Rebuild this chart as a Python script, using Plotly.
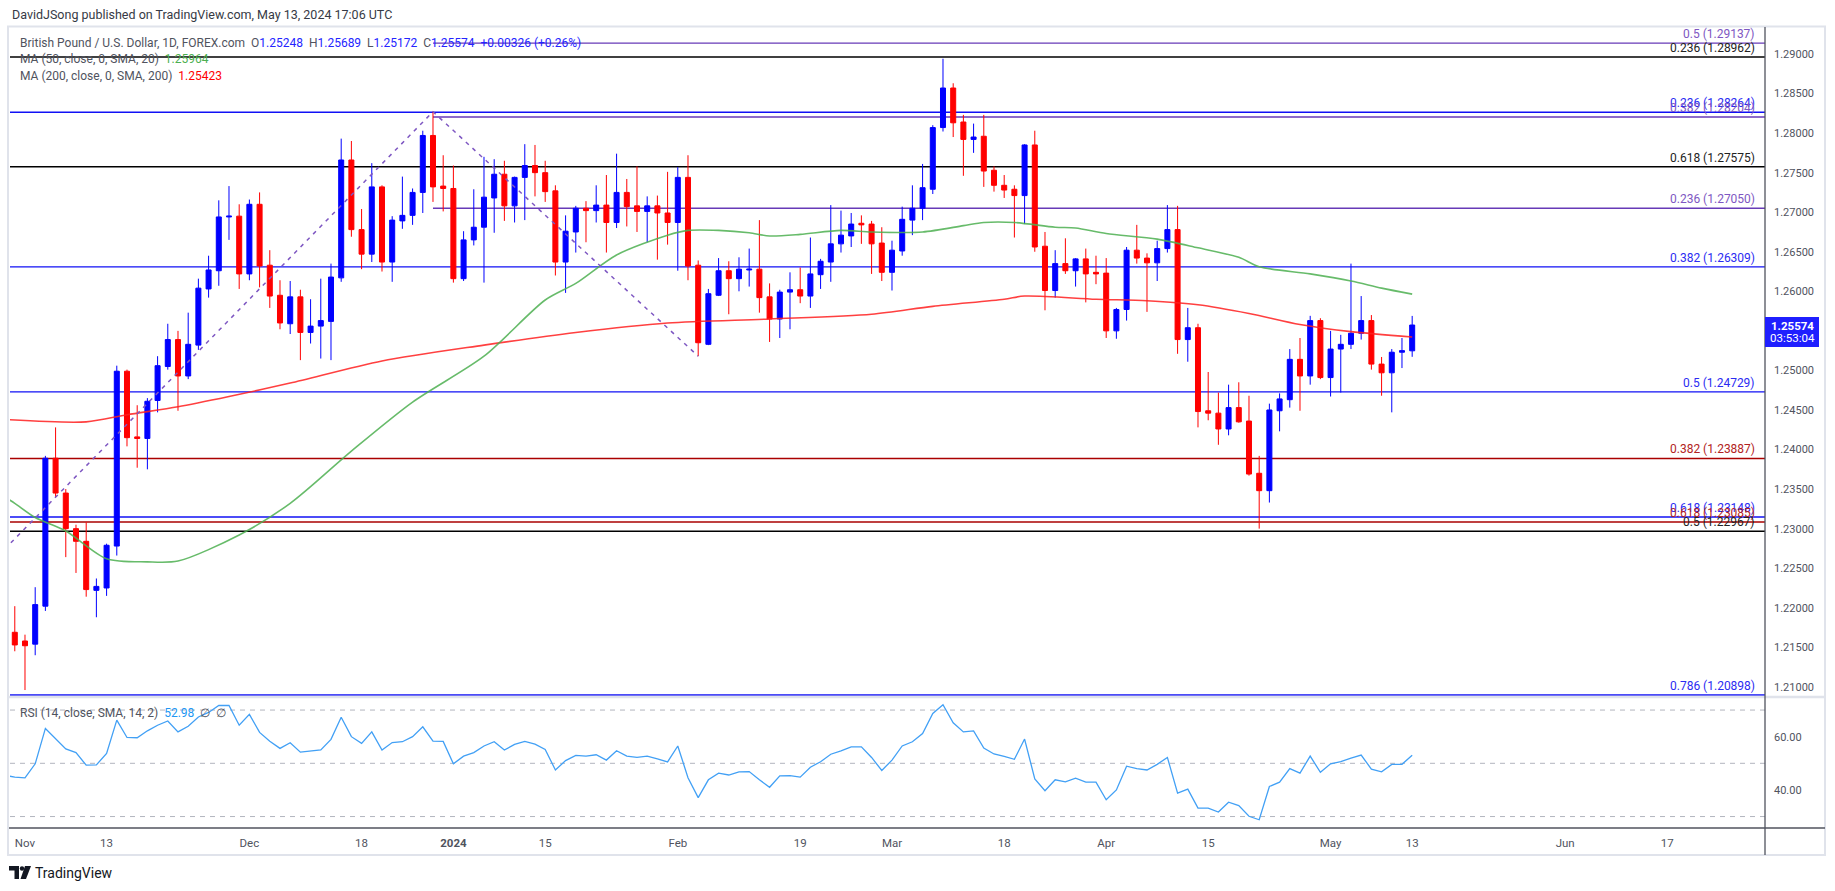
import pandas as pd
import plotly.graph_objects as go

# ---------------- data ----------------
HOLIDAYS = ["2023-12-25", "2024-01-01"]


def trading_days(start, end):
    return [d.strftime("%Y-%m-%d") for d in pd.bdate_range(start, end)
            if d.strftime("%Y-%m-%d") not in HOLIDAYS]


dates = trading_days("2023-10-30", "2024-05-13")          # daily bars
axis_days = trading_days("2023-10-30", "2024-07-31")      # incl. future space
FIRST_DAY = "2023-11-01"

opens = [
    1.2118, 1.2169, 1.2158, 1.2154, 1.2202, 1.2389, 1.2345, 1.2300, 1.2284, 1.2222,
    1.2225, 1.2278, 1.2499, 1.2416, 1.2414, 1.2462, 1.2505, 1.2539, 1.2493, 1.2532,
    1.2603, 1.2626, 1.2694, 1.2695, 1.2622, 1.2710, 1.2633, 1.2595, 1.2559, 1.2593,
    1.2548, 1.2556, 1.2562, 1.2617, 1.2766, 1.2678, 1.2647, 1.2732, 1.2637, 1.2689,
    1.2696, 1.2725, 1.2797, 1.2733, 1.2730, 1.2616, 1.2665, 1.2681, 1.2718, 1.2748,
    1.2708, 1.2744, 1.2759, 1.2750, 1.2727, 1.2637, 1.2675, 1.2705, 1.2702, 1.2709,
    1.2687, 1.2725, 1.2708, 1.2701, 1.2708, 1.2699, 1.2687, 1.2744, 1.2633, 1.2533,
    1.2595, 1.2626, 1.2616, 1.2627, 1.2628, 1.2593, 1.2565, 1.2599, 1.2602, 1.2594,
    1.2621, 1.2637, 1.2660, 1.2670, 1.2686, 1.2685, 1.2661, 1.2624, 1.2651, 1.2690,
    1.2705, 1.2729, 1.2807, 1.2857, 1.2814, 1.2792, 1.2796, 1.2753, 1.2734, 1.2729,
    1.2721, 1.2785, 1.2657, 1.2601, 1.2635, 1.2626, 1.2641, 1.2624, 1.2623, 1.2550,
    1.2577, 1.2652, 1.2642, 1.2636, 1.2654, 1.2678, 1.2539, 1.2554, 1.2449, 1.2446,
    1.2426, 1.2453, 1.2436, 1.2370, 1.2348, 1.2449, 1.2463, 1.2514, 1.2493, 1.2563,
    1.2491, 1.2527, 1.2533, 1.2547, 1.2563, 1.2508, 1.2497, 1.2523, 1.25248,
]
highs = [
    1.2168, 1.2202, 1.2166, 1.2226, 1.2392, 1.2428, 1.2350, 1.2305, 1.2308, 1.2237,
    1.2281, 1.2506, 1.2501, 1.2456, 1.2465, 1.2518, 1.2559, 1.2550, 1.2573, 1.2616,
    1.2645, 1.2715, 1.2733, 1.2710, 1.2716, 1.2725, 1.2652, 1.2614, 1.2613, 1.2602,
    1.2590, 1.2616, 1.2635, 1.2793, 1.2790, 1.2704, 1.2762, 1.2734, 1.2695, 1.2745,
    1.2730, 1.2803, 1.2827, 1.2772, 1.2759, 1.2676, 1.2729, 1.2770, 1.2767, 1.2765,
    1.2745, 1.2786, 1.2785, 1.2765, 1.2734, 1.2696, 1.2708, 1.2714, 1.2734, 1.2747,
    1.2774, 1.2742, 1.2758, 1.2720, 1.2721, 1.2751, 1.2757, 1.2772, 1.2639, 1.2603,
    1.2642, 1.2638, 1.2643, 1.2654, 1.2690, 1.2610, 1.2602, 1.2624, 1.2630, 1.2668,
    1.2641, 1.2709, 1.2702, 1.2699, 1.2696, 1.2689, 1.2681, 1.2664, 1.2707, 1.2734,
    1.2761, 1.2810, 1.2894, 1.2863, 1.2823, 1.2812, 1.2823, 1.2758, 1.2747, 1.2734,
    1.2786, 1.2803, 1.2675, 1.2652, 1.2667, 1.2642, 1.2654, 1.2645, 1.2642, 1.2579,
    1.2656, 1.2684, 1.2648, 1.2664, 1.2709, 1.2708, 1.2579, 1.2559, 1.2498, 1.2472,
    1.2482, 1.2485, 1.2468, 1.2392, 1.2458, 1.2471, 1.2527, 1.2541, 1.2569, 1.2566,
    1.2550, 1.2545, 1.2635, 1.2594, 1.2570, 1.2517, 1.2527, 1.2541, 1.25689,
]
lows = [
    1.2112, 1.2145, 1.2096, 1.2140, 1.2196, 1.2340, 1.2264, 1.2244, 1.2214, 1.2188,
    1.2215, 1.2266, 1.2404, 1.2377, 1.2375, 1.2447, 1.2501, 1.2449, 1.2489, 1.2526,
    1.2592, 1.2607, 1.2665, 1.2603, 1.2614, 1.2605, 1.2579, 1.2552, 1.2546, 1.2513,
    1.2534, 1.2515, 1.2513, 1.2612, 1.2669, 1.2628, 1.2637, 1.2625, 1.2612, 1.2679,
    1.2684, 1.2699, 1.2713, 1.2701, 1.2611, 1.2613, 1.2658, 1.2611, 1.2674, 1.2689,
    1.2687, 1.2690, 1.2720, 1.2713, 1.2620, 1.2598, 1.2649, 1.2662, 1.2687, 1.2649,
    1.2680, 1.2682, 1.2675, 1.2662, 1.2640, 1.2659, 1.2626, 1.2614, 1.2518, 1.2532,
    1.2594, 1.2571, 1.2600, 1.2606, 1.2573, 1.2536, 1.2541, 1.2552, 1.2585, 1.2579,
    1.2603, 1.2612, 1.2649, 1.2656, 1.2660, 1.2622, 1.2613, 1.2601, 1.2645, 1.2671,
    1.2690, 1.2723, 1.2802, 1.2795, 1.2746, 1.2775, 1.2732, 1.2726, 1.2718, 1.2668,
    1.2685, 1.2650, 1.2576, 1.2592, 1.2622, 1.2606, 1.2586, 1.2609, 1.2541, 1.2540,
    1.2563, 1.2635, 1.2574, 1.2613, 1.2649, 1.2521, 1.2511, 1.2428, 1.2437, 1.2406,
    1.2418, 1.2434, 1.2367, 1.2300, 1.2333, 1.2423, 1.2453, 1.2449, 1.2482, 1.2489,
    1.2467, 1.2472, 1.2527, 1.2539, 1.2501, 1.2468, 1.2447, 1.2503, 1.25172,
]
closes = [
    1.2160, 1.2153, 1.2152, 1.2204, 1.2389, 1.2345, 1.2300, 1.2284, 1.2223, 1.2227,
    1.2279, 1.2499, 1.2415, 1.2414, 1.2461, 1.2506, 1.2539, 1.2493, 1.2533, 1.2604,
    1.2627, 1.2694, 1.2695, 1.2622, 1.2710, 1.2632, 1.2594, 1.2560, 1.2593, 1.2548,
    1.2556, 1.2563, 1.2618, 1.2766, 1.2678, 1.2647, 1.2732, 1.2637, 1.2690, 1.2696,
    1.2725, 1.2797, 1.2732, 1.2730, 1.2616, 1.2665, 1.2681, 1.2719, 1.2748, 1.2708,
    1.2744, 1.2759, 1.2750, 1.2726, 1.2637, 1.2676, 1.2705, 1.2702, 1.2709, 1.2687,
    1.2725, 1.2707, 1.2701, 1.2708, 1.2699, 1.2687, 1.2744, 1.2632, 1.2535, 1.2597,
    1.2626, 1.2616, 1.2628, 1.2628, 1.2592, 1.2565, 1.2599, 1.2602, 1.2594, 1.2622,
    1.2638, 1.2660, 1.2671, 1.2685, 1.2684, 1.2660, 1.2624, 1.2652, 1.2691, 1.2705,
    1.2731, 1.2807, 1.2857, 1.2813, 1.2792, 1.2795, 1.2752, 1.2734, 1.2728, 1.2721,
    1.2785, 1.2656, 1.2601, 1.2635, 1.2626, 1.2641, 1.2622, 1.2622, 1.2550, 1.2577,
    1.2652, 1.2642, 1.2636, 1.2654, 1.2678, 1.2539, 1.2554, 1.2448, 1.2446, 1.2426,
    1.2453, 1.2435, 1.2369, 1.2348, 1.2450, 1.2464, 1.2514, 1.2493, 1.2563, 1.2491,
    1.2527, 1.2533, 1.2547, 1.2563, 1.2508, 1.2497, 1.2523, 1.2525, 1.25574,
]
rsi = [
    45.5, 44.8, 44.5, 49.8, 63.1, 59.2, 55.4, 54.0, 49.3, 49.4,
    53.7, 66.2, 59.7, 59.6, 62.2, 64.3, 65.9, 61.8, 63.9, 67.4,
    69.1, 71.7, 71.7, 64.3, 68.4, 61.6, 58.3, 55.6, 57.7, 54.2,
    54.6, 55.0, 59.0, 67.3, 60.0, 57.5, 61.8, 55.0, 57.8, 58.1,
    60.0, 63.7, 58.3, 58.2, 49.8, 52.7, 54.0, 56.5, 58.1, 55.0,
    57.1, 58.2, 57.2, 55.2, 47.5, 51.0, 53.0, 52.7, 53.2, 51.2,
    54.7, 52.7, 52.2, 52.7, 51.7, 50.5, 56.5, 44.6, 37.1, 43.8,
    46.3, 45.6, 46.8, 46.9, 43.8, 41.0, 45.3, 45.4, 44.8, 48.5,
    50.6, 53.4, 54.7, 56.2, 56.2, 52.2, 47.3, 51.2, 56.5, 58.1,
    61.2, 68.7, 72.0, 65.2, 61.8, 62.2, 55.7, 53.5, 52.6, 51.5,
    59.1, 44.1, 39.7, 43.8, 43.0, 44.4, 42.9, 42.9, 36.3, 40.0,
    48.9, 48.0, 47.5, 49.6, 52.2, 38.8, 40.3, 33.2, 33.2, 31.7,
    35.4, 34.1, 30.1, 28.8, 41.3, 42.9, 48.0, 46.3, 52.7, 46.6,
    49.8, 50.6, 51.9, 53.1, 47.8, 46.8, 49.6, 49.6, 52.98,
]

ma50_dates = ["2023-10-30", "2023-10-31", "2023-11-02", "2023-11-07", "2023-11-13", "2023-11-17",
              "2023-11-22", "2023-11-30", "2023-12-07", "2023-12-15", "2023-12-26", "2024-01-05",
              "2024-01-15", "2024-01-18", "2024-01-24", "2024-01-31", "2024-02-02", "2024-02-07",
              "2024-02-12", "2024-02-14", "2024-02-19", "2024-02-23", "2024-02-28", "2024-03-06",
              "2024-03-12", "2024-03-14", "2024-03-19", "2024-03-25", "2024-03-27", "2024-04-01",
              "2024-04-08", "2024-04-12", "2024-04-18", "2024-04-22", "2024-04-29", "2024-05-03",
              "2024-05-08", "2024-05-13"]
ma50_vals = [1.2340, 1.2332, 1.2314, 1.2297, 1.2262, 1.2258,
             1.2259, 1.2292, 1.2332, 1.2398, 1.2460, 1.2518,
             1.2589, 1.2610, 1.2646, 1.2671, 1.2677, 1.2677,
             1.2674, 1.2670, 1.2672, 1.2677, 1.2675, 1.2675,
             1.2683, 1.2687, 1.2687, 1.2681, 1.2680, 1.2673,
             1.2666, 1.2655, 1.2643, 1.2631, 1.2622, 1.2613,
             1.2604, 1.25964]

ma200_dates = ["2023-10-30", "2023-11-09", "2023-11-15", "2023-11-22", "2023-11-29", "2023-12-07",
               "2023-12-20", "2024-01-05", "2024-01-18", "2024-01-31", "2024-02-14", "2024-02-28",
               "2024-03-07", "2024-03-18", "2024-03-20", "2024-03-29", "2024-04-05", "2024-04-12",
               "2024-04-19", "2024-04-26", "2024-05-03", "2024-05-13"]
ma200_vals = [1.2438, 1.2435, 1.2444, 1.2454, 1.2467, 1.2484,
              1.2512, 1.2532, 1.2548, 1.2560, 1.2565, 1.2571,
              1.2581, 1.2590, 1.2594, 1.2590, 1.2588, 1.2583,
              1.2572, 1.2558, 1.2549, 1.25423]

# Fibonacci drawing: swing points of the dashed trend line
trend_dates = ["2023-10-30", "2023-12-28", "2024-02-05"]
trend_prices = [1.2274, 1.2827, 1.2518]

fib_ratios = ["0.5", "0.236", "0.236", "0.382", "0.618", "0.236", "0.382",
              "0.5", "0.382", "0.618", "0.618", "0.5", "0.786"]
fib_prices = [1.29137, 1.28962, 1.28264, 1.28204, 1.27575, 1.27050, 1.26309,
              1.24729, 1.23887, 1.23148, 1.23085, 1.22967, 1.20898]
fib_sets = ["purple", "black", "blue", "purple", "black", "purple", "blue",
            "blue", "red", "blue", "red", "black", "blue"]
fib_purple_start = "2023-12-28"

tick_dates = ["2023-11-01", "2023-11-13", "2023-12-01", "2023-12-18", "2024-01-02",
              "2024-01-15", "2024-02-01", "2024-02-19", "2024-03-01", "2024-03-18",
              "2024-04-01", "2024-04-15", "2024-05-01", "2024-05-13", "2024-06-03",
              "2024-06-17"]
tick_labels = ["Nov", "13", "Dec", "18", "<b>2024</b>", "15", "Feb", "19", "Mar", "18",
               "Apr", "15", "May", "13", "Jun", "17"]

price_ticks = [1.21, 1.215, 1.22, 1.225, 1.23, 1.235, 1.24, 1.245, 1.25,
               1.26, 1.265, 1.27, 1.275, 1.28, 1.285, 1.29]

# ---------------- helpers ----------------
base = axis_days.index(FIRST_DAY)
pos = {d: i - base for i, d in enumerate(axis_days)}
xs = [pos[d] for d in dates]

W, H = 1835, 891
L, R, T, B = 10, 1765, 27, 828          # plot area in pixels
X_MIN, X_MAX = -1.47, 170.59
Y_MIN, Y_MAX = 1.20872, 1.29341
SPLIT = 697                              # price / RSI separator


def PX(x):
    return (x - L) / (R - L)


def PY(y):
    return (B - y) / (B - T)


FONT = "Roboto, 'Liberation Sans', Arial, sans-serif"
BLUE = "#0000ff"
RED = "#ff0000"
line_col = {"blue": "#1010f5", "purple": "#673ab7", "black": "#000000", "red": "#aa0000"}
text_col = {"blue": "#2b2bf2", "purple": "#7e57c2", "black": "#222222", "red": "#b22222"}

fig = go.Figure()

fig.add_trace(go.Candlestick(
    x=xs, open=opens, high=highs, low=lows, close=closes, text=dates,
    increasing=dict(line=dict(color=BLUE, width=1), fillcolor=BLUE),
    decreasing=dict(line=dict(color=RED, width=1), fillcolor=RED),
    whiskerwidth=0, hoverinfo="text+y", xaxis="x", yaxis="y", name="GBPUSD"))

fig.add_trace(go.Scatter(
    x=[pos[d] for d in ma200_dates], y=ma200_vals, mode="lines",
    line=dict(color="rgba(255,30,30,0.85)", width=1.6, shape="spline", smoothing=0.8),
    hoverinfo="skip", xaxis="x", yaxis="y"))
fig.add_trace(go.Scatter(
    x=[pos[d] for d in ma50_dates], y=ma50_vals, mode="lines",
    line=dict(color="rgba(76,175,80,0.85)", width=1.6, shape="spline", smoothing=0.8),
    hoverinfo="skip", xaxis="x", yaxis="y"))
fig.add_trace(go.Scatter(
    x=[pos[d] for d in trend_dates], y=trend_prices, mode="lines",
    line=dict(color="#7e57c2", width=1.5, dash="4px,5px"),
    hoverinfo="skip", xaxis="x", yaxis="y"))

fig.add_trace(go.Scatter(
    x=xs, y=rsi, mode="lines", line=dict(color="#42a0f5", width=1.3),
    hoverinfo="skip", xaxis="x2", yaxis="y2"))

shapes = []
annotations = []

# Fibonacci levels
for ratio, price, st in zip(fib_ratios, fib_prices, fib_sets):
    x0 = pos[fib_purple_start] if st == "purple" else X_MIN
    shapes.append(dict(type="line", xref="x", yref="y", x0=x0, x1=X_MAX, y0=price, y1=price,
                       line=dict(color=line_col[st], width=1.4), layer="below"))
    annotations.append(dict(xref="paper", yref="y", x=PX(1757), y=price, xanchor="right",
                            yanchor="bottom", yshift=0, showarrow=False,
                            text=f"{ratio} ({price:.5f})",
                            font=dict(family=FONT, size=12, color=text_col[st])))

# RSI bands
for lvl in (70, 50, 30):
    shapes.append(dict(type="line", xref="x2", yref="y2", x0=X_MIN, x1=X_MAX, y0=lvl, y1=lvl,
                       line=dict(color="#b2b5be", width=1, dash="5px,5px"), layer="below"))

# frame
frame = "#e0e3eb"
axis_c = "#50535e"
shapes += [
    dict(type="rect", xref="paper", yref="paper", x0=PX(8), x1=PX(1825), y0=PY(855), y1=PY(26.5),
         line=dict(color=frame, width=2)),
    dict(type="line", xref="paper", yref="paper", x0=PX(8), x1=PX(1825), y0=PY(SPLIT), y1=PY(SPLIT),
         line=dict(color=frame, width=2.5)),
    dict(type="line", xref="paper", yref="paper", x0=PX(9), x1=PX(1825), y0=PY(828), y1=PY(828),
         line=dict(color=axis_c, width=1.3)),
    dict(type="line", xref="paper", yref="paper", x0=PX(1765), x1=PX(1765), y0=PY(855), y1=PY(27),
         line=dict(color=axis_c, width=1.3)),
    # last price badge
    dict(type="rect", xref="paper", yref="paper", x0=PX(1765), x1=PX(1819), y0=PY(347), y1=PY(317),
         fillcolor="#1f1fff", line=dict(width=0)),
    # TradingView logo
    dict(type="path", xref="paper", yref="paper",
         path=f"M {PX(9)},{PY(866)} L {PX(19)},{PY(866)} L {PX(19)},{PY(879)} L {PX(14.5)},{PY(879)} "
              f"L {PX(14.5)},{PY(870.5)} L {PX(9)},{PY(870.5)} Z",
         fillcolor="#131722", line=dict(width=0)),
    dict(type="circle", xref="paper", yref="paper", x0=PX(19.8), x1=PX(24.2), y0=PY(870.7), y1=PY(866.3),
         fillcolor="#131722", line=dict(width=0)),
    dict(type="path", xref="paper", yref="paper",
         path=f"M {PX(25)},{PY(866)} L {PX(31)},{PY(866)} L {PX(26)},{PY(879)} L {PX(20.5)},{PY(879)} Z",
         fillcolor="#131722", line=dict(width=0)),
]

GRAY = "#50535e"
annotations += [
    dict(xref="paper", yref="paper", x=PX(10), y=PY(15), xanchor="left", yanchor="middle",
         showarrow=False, text="DavidJSong published on TradingView.com, May 13, 2024 17:06 UTC",
         font=dict(family=FONT, size=12.5, color="#363a45")),
    dict(xref="paper", yref="paper", x=PX(18), y=PY(42.7), xanchor="left", yanchor="middle",
         showarrow=False,
         text=("British Pound / U.S. Dollar, 1D, FOREX.com&nbsp;&nbsp;"
               "O<span style='color:#2424ff'>1.25248</span>&nbsp;&nbsp;"
               "H<span style='color:#2424ff'>1.25689</span>&nbsp;&nbsp;"
               "L<span style='color:#2424ff'>1.25172</span>&nbsp;&nbsp;"
               "C<span style='color:#2424ff'>1.25574&nbsp;&nbsp;+0.00326 (+0.26%)</span>"),
         font=dict(family=FONT, size=12, color=GRAY)),
    dict(xref="paper", yref="paper", x=PX(18), y=PY(59.3), xanchor="left", yanchor="middle",
         showarrow=False,
         text="MA (50, close, 0, SMA, 20)&nbsp;&nbsp;<span style='color:#4caf50'>1.25964</span>",
         font=dict(family=FONT, size=12, color=GRAY)),
    dict(xref="paper", yref="paper", x=PX(18), y=PY(76), xanchor="left", yanchor="middle",
         showarrow=False,
         text="MA (200, close, 0, SMA, 200)&nbsp;&nbsp;<span style='color:#ff0000'>1.25423</span>",
         font=dict(family=FONT, size=12, color=GRAY)),
    dict(xref="paper", yref="paper", x=PX(18), y=PY(713), xanchor="left", yanchor="middle",
         showarrow=False,
         text="RSI (14, close, SMA, 14, 2)&nbsp;&nbsp;<span style='color:#2196f3'>52.98</span>&nbsp;&nbsp;∅&nbsp;&nbsp;∅",
         font=dict(family=FONT, size=12, color=GRAY)),
    dict(xref="paper", yref="paper", x=PX(1792), y=PY(325.5), xanchor="center", yanchor="middle",
         showarrow=False, text="<b>1.25574</b>", font=dict(family=FONT, size=11.5, color="#ffffff")),
    dict(xref="paper", yref="paper", x=PX(1792), y=PY(338.5), xanchor="center", yanchor="middle",
         showarrow=False, text="03:53:04", font=dict(family=FONT, size=11.5, color="#ffffff")),
    dict(xref="paper", yref="paper", x=PX(33), y=PY(873), xanchor="left", yanchor="middle",
         showarrow=False, text="TradingView", font=dict(family=FONT, size=14, color="#131722")),
]

dom_split = PY(SPLIT)
fig.update_layout(
    width=W, height=H, autosize=False,
    margin=dict(l=L, r=W - R, t=T, b=H - B, pad=0),
    paper_bgcolor="white", plot_bgcolor="white",
    showlegend=False,
    xaxis=dict(domain=[0, 1], range=[X_MIN, X_MAX], anchor="y", matches="x2",
               showticklabels=False, showgrid=False, zeroline=False, showline=False,
               rangeslider=dict(visible=False), fixedrange=True),
    yaxis=dict(domain=[dom_split, 1], range=[Y_MIN, Y_MAX], side="right", anchor="x",
               tickvals=price_ticks, tickformat=".5f", showgrid=False, zeroline=False,
               showline=False, ticks="", ticklabelstandoff=8,
               tickfont=dict(family=FONT, size=11, color="#50535e")),
    xaxis2=dict(domain=[0, 1], range=[X_MIN, X_MAX], anchor="y2",
                tickvals=[pos[d] for d in tick_dates], ticktext=tick_labels,
                showgrid=False, zeroline=False, showline=False, ticks="",
                ticklabelstandoff=6,
                tickfont=dict(family=FONT, size=11.5, color="#50535e")),
    yaxis2=dict(domain=[0, dom_split], range=[25.7, 74.9], side="right", anchor="x2",
                tickvals=[40, 60], tickformat=".2f", showgrid=False, zeroline=False,
                showline=False, ticks="", ticklabelstandoff=8,
                tickfont=dict(family=FONT, size=11, color="#50535e")),
    shapes=shapes,
    annotations=annotations,
)

fig.write_html("out.html", config={"displayModeBar": False},
               post_script="document.body.style.margin='0';document.body.style.overflow='hidden';")
